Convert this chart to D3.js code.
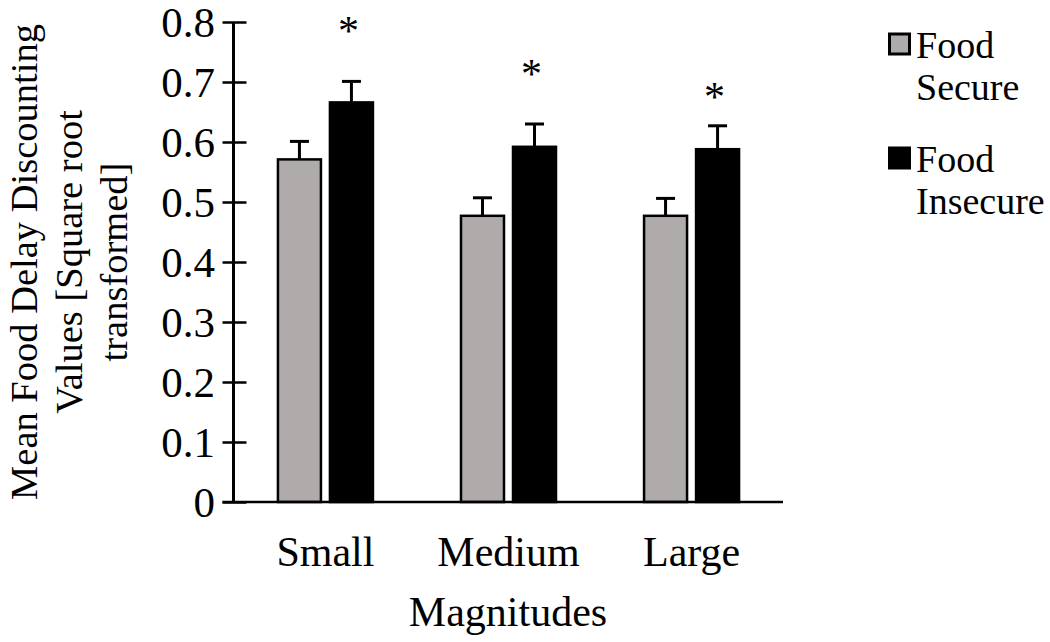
<!DOCTYPE html>
<html>
<head>
<meta charset="utf-8">
<script src="https://cdn.jsdelivr.net/npm/d3@7"></script>
<style>
  html, body { margin: 0; padding: 0; background: #fff; }
  svg { display: block; font-family: "Liberation Serif", "Times New Roman", serif; }
</style>
</head>
<body>
<svg id="chart" width="1050" height="642"></svg>
<script>
// ---- data ----
const categories = ["Small", "Medium", "Large"];
const seriesNames = ["Food Secure", "Food Insecure"];
const secureValues = [0.571, 0.477, 0.477];
const secureErrors = [0.030, 0.030, 0.029];
const insecureValues = [0.666, 0.592, 0.588];
const insecureErrors = [0.035, 0.038, 0.039];
const starLevels = [0.792, 0.72, 0.682];   // significance markers above Food Insecure bars
const yTicks = [0, 0.1, 0.2, 0.3, 0.4, 0.5, 0.6, 0.7, 0.8];
const yTickLabels = ["0", "0.1", "0.2", "0.3", "0.4", "0.5", "0.6", "0.7", "0.8"];
const yLabelLines = ["Mean Food Delay Discounting", "Values [Square root", "transformed]"];
const xLabel = "Magnitudes";

const colors = { "Food Secure": "#afabab", "Food Insecure": "#000000" };
const FONT = "Liberation Serif, Times New Roman, serif";

const rows = categories.map((c, i) => ({
  cat: c,
  bars: [
    { s: "Food Secure", v: secureValues[i], e: secureErrors[i] },
    { s: "Food Insecure", v: insecureValues[i], e: insecureErrors[i] }
  ],
  star: starLevels[i]
}));

const svg = d3.select("#chart");

const x0 = d3.scaleBand().domain(categories).range([234, 783])
  .paddingInner(0.481).paddingOuter(0.24);
const x1 = d3.scaleBand().domain(seriesNames).range([0, x0.bandwidth()])
  .paddingInner(0.173);
const y = d3.scaleLinear().domain([0, 0.8]).range([502, 22]);

// bars
const g = svg.append("g");
const groups = g.selectAll("g.grp").data(rows).join("g")
  .attr("transform", d => `translate(${x0(d.cat)},0)`);

groups.selectAll("rect").data(d => d.bars).join("rect")
  .attr("x", d => x1(d.s))
  .attr("y", d => y(d.v))
  .attr("width", x1.bandwidth())
  .attr("height", d => y(0) - y(d.v))
  .attr("fill", d => colors[d.s])
  .attr("stroke", "#000")
  .attr("stroke-width", 2.5);

// error bars (upward)
groups.selectAll("line.err").data(d => d.bars).join("line")
  .attr("class", "err")
  .attr("x1", d => x1(d.s) + x1.bandwidth() / 2)
  .attr("x2", d => x1(d.s) + x1.bandwidth() / 2)
  .attr("y1", d => y(d.v))
  .attr("y2", d => y(d.v + d.e))
  .attr("stroke", "#000").attr("stroke-width", 3);
groups.selectAll("line.cap").data(d => d.bars).join("line")
  .attr("class", "cap")
  .attr("x1", d => x1(d.s) + x1.bandwidth() / 2 - 9.5)
  .attr("x2", d => x1(d.s) + x1.bandwidth() / 2 + 9.5)
  .attr("y1", d => y(d.v + d.e))
  .attr("y2", d => y(d.v + d.e))
  .attr("stroke", "#000").attr("stroke-width", 3);

// stars
groups.append("text")
  .attr("x", x1("Food Insecure") + x1.bandwidth() / 2 - 3)
  .attr("y", d => y(d.star) + 18)
  .attr("text-anchor", "middle")
  .attr("font-size", 42)
  .attr("fill", "#000")
  .text("*");

// x axis
const xAxis = svg.append("g").attr("transform", `translate(0,${y(0)})`)
  .call(d3.axisBottom(x0).tickSize(0).tickPadding(0));
xAxis.select(".domain").attr("d", `M222.5,0H783`).attr("stroke", "#000").attr("stroke-width", 2.5);
xAxis.selectAll(".tick text")
  .attr("font-size", 42)
  .attr("font-family", FONT)
  .attr("fill", "#000")
  .attr("dy", 0).attr("y", 64);

// y axis
const yAxis = svg.append("g").attr("transform", `translate(233.5,0)`)
  .call(d3.axisLeft(y).tickValues(yTicks).tickFormat((d, i) => yTickLabels[i])
    .tickSize(11).tickPadding(7.5));
yAxis.select(".domain").attr("d", `M0,${y(0.8)}V${y(0)}`).attr("stroke", "#000").attr("stroke-width", 3);
yAxis.selectAll(".tick line").attr("x1", 13).attr("stroke", "#000").attr("stroke-width", 2.5);
yAxis.selectAll(".tick text")
  .attr("font-size", 43)
  .attr("font-family", FONT)
  .attr("fill", "#000")
  .attr("dy", "0.34em");

// axis titles
svg.append("text")
  .attr("x", 508).attr("y", 626)
  .attr("text-anchor", "middle")
  .attr("font-size", 42)
  .text(xLabel);

const yl = svg.append("text")
  .attr("transform", "translate(0,262) rotate(-90)")
  .attr("text-anchor", "middle")
  .attr("font-size", 38.5);
yLabelLines.forEach((t, i) => {
  yl.append("tspan").attr("x", 0).attr("y", 37 + i * 45).text(t);
});

// legend
const legendData = [
  { s: "Food Secure", lines: ["Food", "Secure"], top: 33 },
  { s: "Food Insecure", lines: ["Food", "Insecure"], top: 147 }
];
const lg = svg.append("g");
legendData.forEach(d => {
  lg.append("rect")
    .attr("x", 889.5).attr("y", d.top + 1)
    .attr("width", 20).attr("height", 20)
    .attr("fill", colors[d.s])
    .attr("stroke", "#000").attr("stroke-width", 3);
  const t = lg.append("text").attr("font-size", 38);
  d.lines.forEach((ln, i) => {
    t.append("tspan").attr("x", 916).attr("y", d.top + 25 + i * 42).text(ln);
  });
});
</script>
</body>
</html>
